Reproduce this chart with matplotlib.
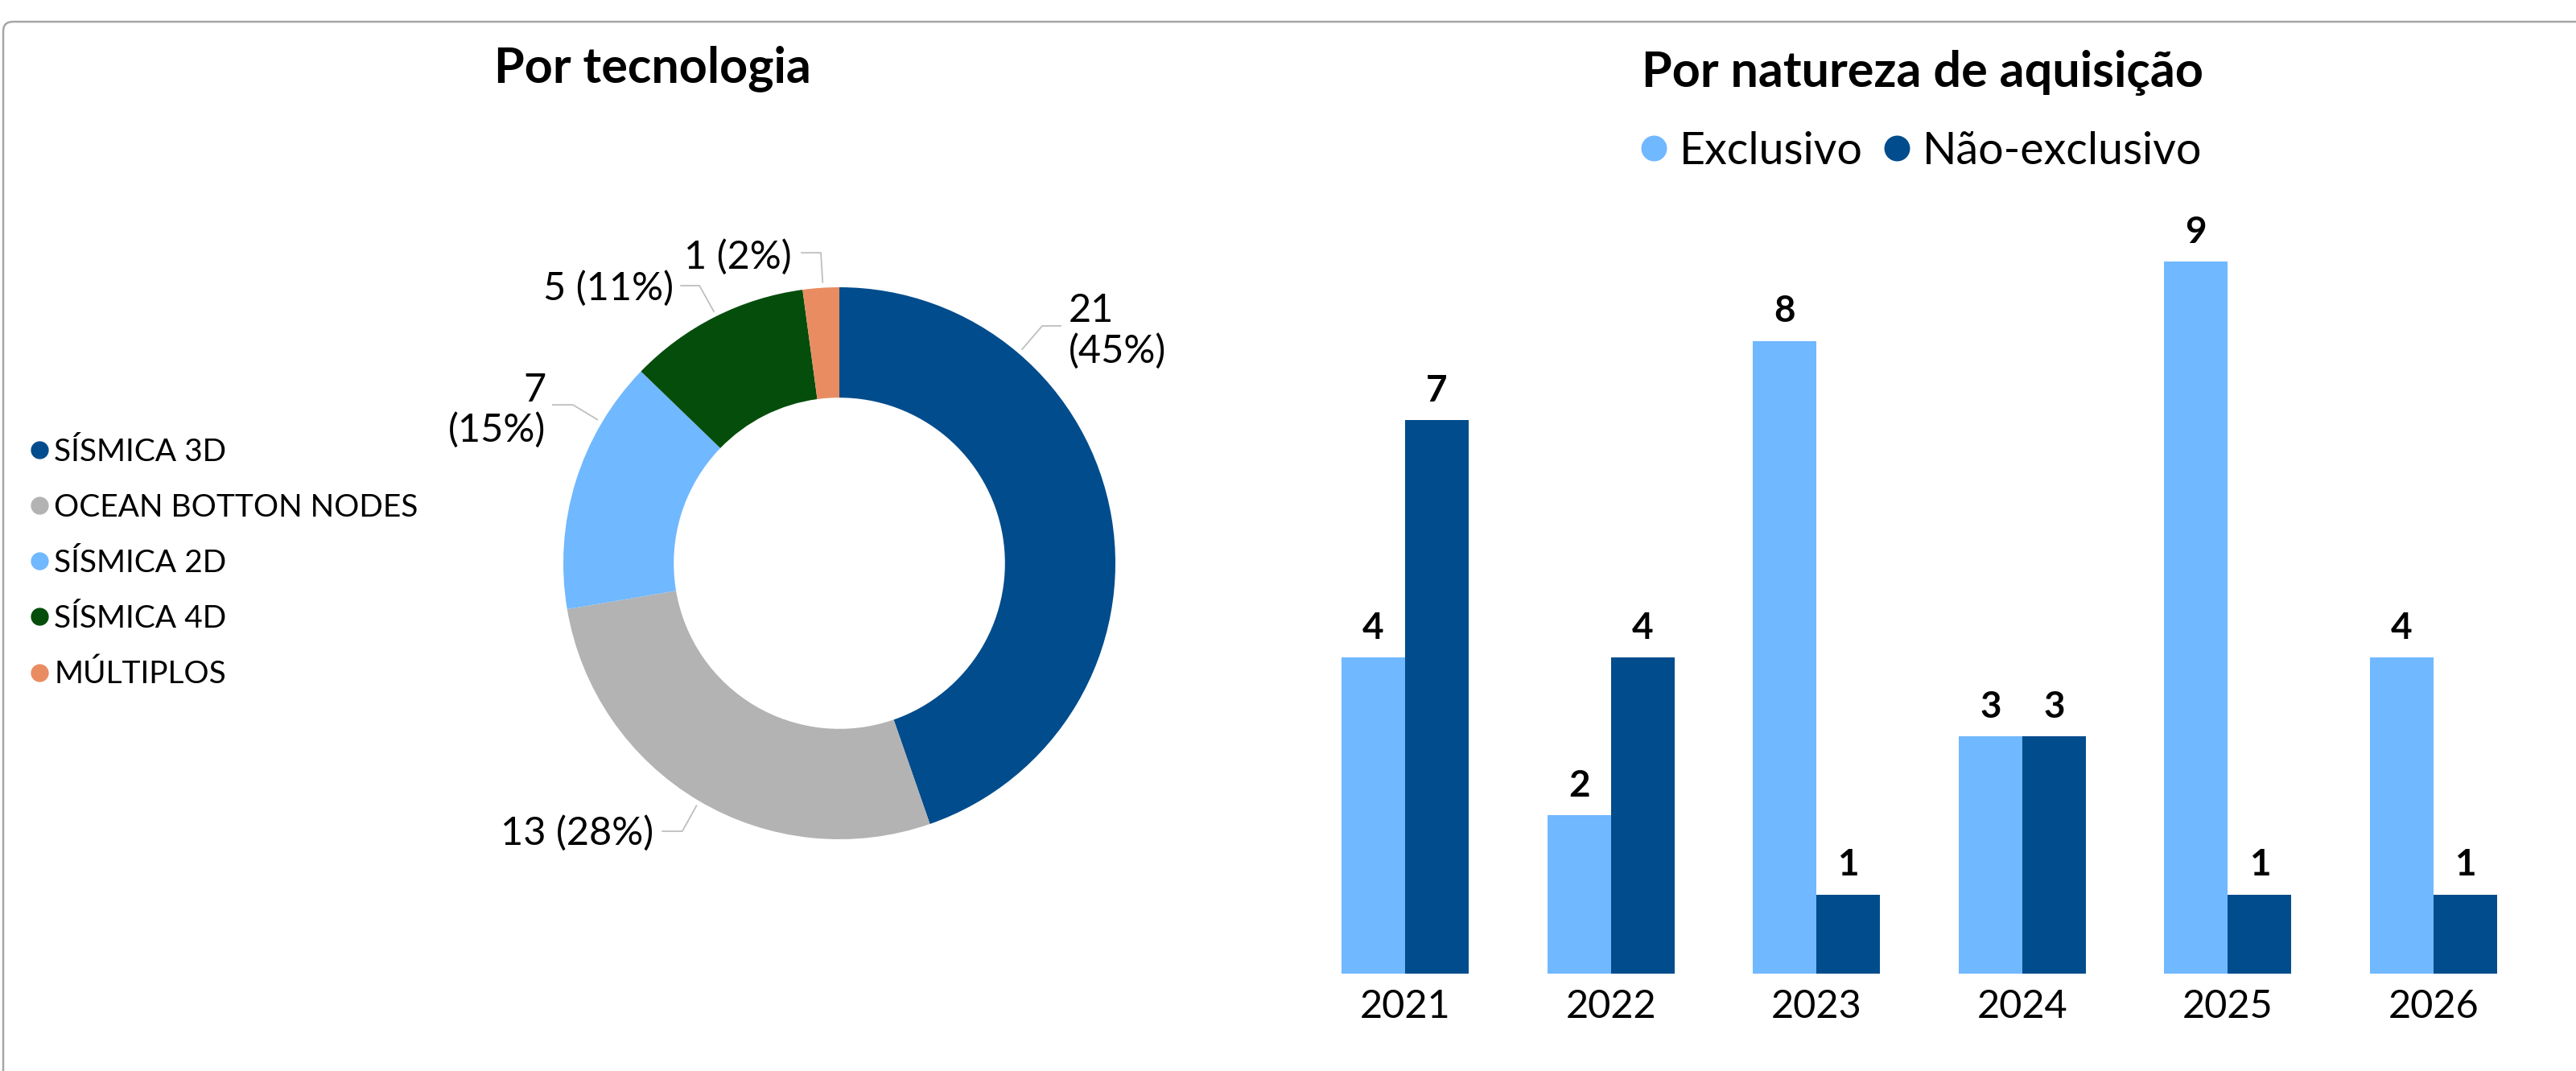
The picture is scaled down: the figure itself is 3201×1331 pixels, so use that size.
import numpy as np
import matplotlib
matplotlib.use("Agg")
import matplotlib.pyplot as plt
from matplotlib.lines import Line2D
from matplotlib.patches import FancyBboxPatch

plt.rcParams["font.family"] = ["Lato", "DejaVu Sans"]

# --- data ---
tech_labels = ["SÍSMICA 3D", "OCEAN BOTTON NODES", "SÍSMICA 2D", "SÍSMICA 4D", "MÚLTIPLOS"]
tech_counts = [21, 13, 7, 5, 1]
tech_colors = ["#004C8C", "#B3B3B3", "#70B8FF", "#054D0B", "#E98C62"]

years = ["2021", "2022", "2023", "2024", "2025", "2026"]
exclusivo = [4, 2, 8, 3, 9, 4]
nao_exclusivo = [7, 4, 1, 3, 1, 1]
series_names = ["Exclusivo", "Não-exclusivo"]
series_colors = ["#70B8FF", "#004C8C"]

# label layout for the donut: (text x, text y, ha, two lines?, leader angle, elbow, end)
pie_layout = [
    (0.831, 0.841, "left", True, 40.5, (0.735, 0.860), (0.802, 0.860)),
    (-0.672, -0.977, "right", False, 210.5, (-0.569, -0.971), (-0.641, -0.971)),
    (-1.064, 0.554, "right", True, 300.7, (-0.965, 0.574), (-1.038, 0.574)),
    (-0.601, 0.997, "right", False, 333.5, (-0.507, 1.006), (-0.574, 1.006)),
    (-0.172, 1.110, "right", False, 356.6, (-0.067, 1.125), (-0.137, 1.125)),
]

W, H = 3201, 1331
fig = plt.figure(figsize=(W / 100, H / 100), dpi=100)

# outer frame (only top and left visible)
frame = FancyBboxPatch((0.04, -1.0), 40, 13.04 + 1.0,
                       boxstyle="round,pad=0,rounding_size=0.12",
                       transform=fig.dpi_scale_trans, fc="none",
                       ec="#A6A6A6", lw=1.8, clip_on=False)
fig.patches.append(frame)

# --- donut ---
cx, cy, R = 1043, 700, 343
ax1 = fig.add_axes([(cx - R) / W, (H - cy - R) / H, 2 * R / W, 2 * R / H])
wedges, _ = ax1.pie(tech_counts, colors=tech_colors, startangle=90, counterclock=False,
                    radius=1, wedgeprops=dict(width=0.4, linewidth=0))
ax1.set_xlim(-1, 1)
ax1.set_ylim(-1, 1)
ax1.set_aspect("equal")
ax1.axis("off")

total = sum(tech_counts)
for v, lay in zip(tech_counts, pie_layout):
    tx, ty, ha, two, ang, elbow, end = lay
    pct = round(100 * v / total)
    txt = f"{v}\n({pct}%)" if two else f"{v} ({pct}%)"
    a = np.deg2rad(ang)
    start = (1.02 * np.sin(a), 1.02 * np.cos(a))
    ax1.plot([start[0], elbow[0], end[0]], [start[1], elbow[1], end[1]],
             color="#BFBFBF", lw=1.3, clip_on=False)
    ax1.text(tx, ty, txt, ha=ha, va="center", fontsize=35, multialignment=ha,
             linespacing=1.15, clip_on=False)

fig.text(811 / W, 1 - 102 / H, "Por tecnologia", ha="center", va="baseline",
         fontsize=44, fontweight="bold")

handles = [Line2D([], [], marker="o", ls="", color=c, markersize=15) for c in tech_colors]
fig.legend(handles, tech_labels, loc="center left", bbox_to_anchor=(38 / W, 1 - 700 / H),
           frameon=False, fontsize=28, handlelength=0.55, handletextpad=0.2,
           labelspacing=0.85, borderpad=0, borderaxespad=0)

# --- bars ---
step, base, unit = 255.6, 1210, 98.3
x0 = 1746 - step / 2
ax2 = fig.add_axes([x0 / W, (H - base) / H, 6 * step / W, 10 * unit / H])
x = np.arange(len(years))
w = 0.309
b1 = ax2.bar(x - w / 2, exclusivo, w, color=series_colors[0], label=series_names[0])
b2 = ax2.bar(x + w / 2, nao_exclusivo, w, color=series_colors[1], label=series_names[1])
for b in (b1, b2):
    ax2.bar_label(b, padding=11, fontsize=33, fontweight="bold")
ax2.set_xlim(-0.5, 5.5)
ax2.set_ylim(0, 10)
ax2.set_xticks(x, years)
ax2.set_yticks([])
ax2.tick_params(axis="x", length=0, labelsize=35, pad=14)
for s in ax2.spines.values():
    s.set_visible(False)

fig.text(2389 / W, 1 - 108 / H, "Por natureza de aquisição", ha="center", va="baseline",
         fontsize=44, fontweight="bold")

bh = [Line2D([], [], marker="o", ls="", color=c, markersize=22) for c in series_colors]
fig.legend(bh, series_names, loc="center", bbox_to_anchor=(2388 / W, 1 - 188 / H),
           ncol=2, frameon=False, fontsize=40, handlelength=0.55, handletextpad=0.3,
           columnspacing=0.5, borderpad=0, borderaxespad=0)

fig.savefig("out.png", dpi=100, facecolor="white")
